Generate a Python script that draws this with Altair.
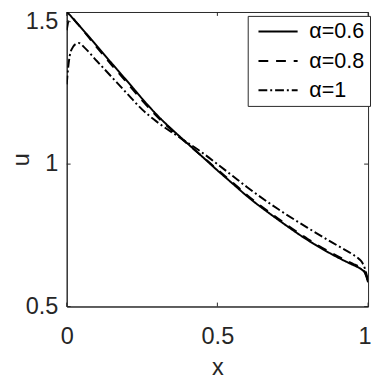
import altair as alt
import pandas as pd

# ---- data ----
x_vals = [0, 0.005, 0.01, 0.02, 0.03, 0.04, 0.06, 0.1, 0.15, 0.2, 0.25, 0.3, 0.38,
          0.45, 0.5, 0.55, 0.6, 0.7, 0.8, 0.9, 0.95, 0.97, 0.98, 0.99, 1.0]
u_06 = [1.532, 1.529, 1.524, 1.512, 1.5, 1.488, 1.464, 1.415, 1.353, 1.292, 1.23, 1.172, 1.092,
        1.026, 0.978, 0.932, 0.886, 0.806, 0.733, 0.672, 0.646, 0.636, 0.629, 0.617, 0.585]
u_08 = [1.47, 1.5, 1.515, 1.512, 1.5, 1.488, 1.462, 1.41, 1.347, 1.286, 1.224, 1.167, 1.09,
        1.027, 0.981, 0.936, 0.89, 0.81, 0.737, 0.676, 0.65, 0.64, 0.632, 0.62, 0.59]
u_10 = [1.28, 1.34, 1.38, 1.41, 1.422, 1.425, 1.408, 1.362, 1.305, 1.248, 1.192, 1.148, 1.09,
        1.04, 1.0, 0.959, 0.918, 0.843, 0.776, 0.713, 0.682, 0.667, 0.655, 0.632, 0.59]
series_names = ["α=0.6", "α=0.8", "α=1"]
x_ticks = [0, 0.5, 1]
y_ticks = [0.5, 1, 1.5]

rows = []
for name, vals in zip(series_names, [u_06, u_08, u_10]):
    for xv, uv in zip(x_vals, vals):
        rows.append({"x": xv, "u": uv, "series": name})
df = pd.DataFrame(rows)

W, H = 308, 301
FONT = "Liberation Sans"
AX = "#262626"

xscale = alt.Scale(domain=[0, 1], nice=False, zero=False)
yscale = alt.Scale(domain=[0.5, 1.534], nice=False, zero=False)

lines = alt.Chart(df).mark_line(strokeWidth=2, color="black", interpolate="monotone", clip=True).encode(
    x=alt.X("x:Q", scale=xscale,
            axis=alt.Axis(values=x_ticks, format="~g", title="x", ticks=False, grid=False,
                          labelFlush=False, labelPadding=19, titlePadding=7,
                          labelAlign=alt.condition("datum.value == 1", alt.value("right"), alt.value("center")),
                          labelOffset=alt.condition("datum.value == 1", alt.value(3), alt.value(0)))),
    y=alt.Y("u:Q", scale=yscale,
            axis=alt.Axis(values=y_ticks, format="~g", title="u", ticks=False, grid=False,
                          labelFlush=False, labelPadding=9, titlePadding=-8)),
    strokeDash=alt.StrokeDash(
        "series:N",
        scale=alt.Scale(domain=series_names, range=[[1, 0], [10, 8], [9, 3, 2, 3]]),
        legend=alt.Legend(title=None, orient="none", legendX=185, legendY=4,
                          symbolType="M-2.5,0H17.5", symbolSize=16, symbolStrokeWidth=2,
                          symbolStrokeColor="black", labelFont=FONT, labelFontSize=22,
                          labelColor="black", labelOffset=36, strokeColor=AX,
                          fillColor="white", padding=5, rowPadding=8),
    ),
    order=alt.Order("x:Q"),
)

ydf = pd.DataFrame({"y": y_ticks})
xdf = pd.DataFrame({"x": x_ticks})
ytick_l = alt.Chart(ydf).mark_rule(color=AX, strokeWidth=1).encode(
    y=alt.Y("y:Q", scale=yscale), x=alt.value(0), x2=alt.value(4))
ytick_r = alt.Chart(ydf).mark_rule(color=AX, strokeWidth=1).encode(
    y=alt.Y("y:Q", scale=yscale), x=alt.value(W - 4), x2=alt.value(W))
xtick_b = alt.Chart(xdf).mark_rule(color=AX, strokeWidth=1).encode(
    x=alt.X("x:Q", scale=xscale), y=alt.value(H), y2=alt.value(H - 4))
xtick_t = alt.Chart(xdf).mark_rule(color=AX, strokeWidth=1).encode(
    x=alt.X("x:Q", scale=xscale), y=alt.value(0), y2=alt.value(4))

chart = alt.layer(lines, ytick_l, ytick_r, xtick_b, xtick_t).properties(
    width=W, height=H,
    autosize=alt.AutoSizeParams(type="none"),
    padding={"left": 60, "top": 0, "right": 3, "bottom": 70},
    background="white",
).configure_view(
    stroke=AX, strokeWidth=1
).configure_axis(
    labelFont=FONT, labelFontSize=24, labelColor=AX,
    titleFont=FONT, titleFontSize=24, titleFontWeight="normal", titleColor=AX,
    domainColor=AX, domainWidth=1,
)

chart.save("out.html", embed_options={"renderer": "svg", "actions": False})
